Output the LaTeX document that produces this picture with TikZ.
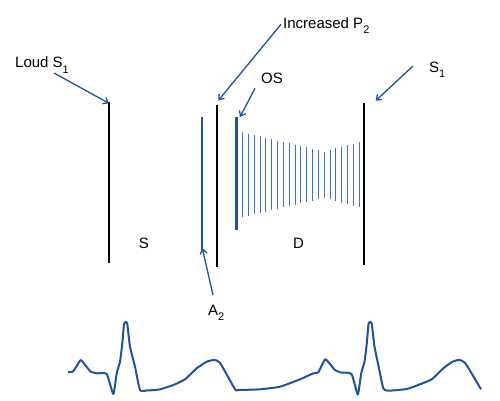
\documentclass[tikz,border=0pt]{standalone}
\usepackage{fontspec}
\setmainfont{Liberation Sans}
\usepackage{tikz}
\usetikzlibrary{arrows.meta, calc}
\usepackage{xcolor}
\definecolor{traceblue}{HTML}{1F52A0}
\definecolor{stripeblue}{HTML}{3F72C2}
\newcommand{\subidx}[1]{\raisebox{-5.5pt}{\fontsize{11}{11}\selectfont #1}}

\begin{document}
\begin{tikzpicture}[x=1pt, y=-1pt,
    lbl/.style={inner sep=0pt, anchor=base west, font=\fontsize{15}{18}\selectfont},
    ptr/.style={draw=traceblue, line width=1.3pt, -{Straight Barb[length=4.5pt,width=7pt]}},
    soundline/.style={line width=2pt, black},
    blueline/.style={line width=1.7pt, traceblue},
    stripe/.style={line width=1pt, stripeblue}]
  \useasboundingbox (0,0) rectangle (500,400);

  % heart sounds
  \draw[soundline] (109,102) -- (109,263);
  \draw[blueline] (202.3,117) -- (202.3,250);
  \draw[soundline] (217,105) -- (217,267);
  \draw[blueline, line width=3pt] (236,117) -- (236,230);
  \draw[soundline] (364,103) -- (364,265);

  % diastolic rumble
  \foreach \i in {0,...,20}{
    \pgfmathsetmacro{\xs}{242.7+5.82*\i}
    \pgfmathsetmacro{\hs}{\i<15 ? 42.3-1.364*\i : 23.2+1.55*(\i-14)}
    \draw[stripe] (\xs,174.7-\hs) -- (\xs,174.7+\hs);
  }

  % arrow tips
  \coordinate (loudtip) at (109,103.3);
  \coordinate (p2tip) at (218.3,100.5);
  \coordinate (ostip) at (240,117);
  \coordinate (s1tip) at (375.7,100.7);
  \coordinate (a2tip) at (202.3,248.3);

  % labels
  \node[lbl] (loud) at (15,67.7) {Loud S\subidx{1}};
  \node[lbl] (incp2) at (283,28.3) {Increased P\subidx{2}};
  \node[lbl] (os) at (261,83.3) {OS};
  \node[lbl] (s1) at (429,72) {S\subidx{1}};
  \node[lbl] (a2) at (208,315) {A\subidx{2}};
  \node[lbl, anchor=center] (sys) at (144,243) {S};
  \node[lbl, anchor=center] (dia) at (298.5,243.5) {D};

  \draw[ptr] ($(loud.base west)+(39,5.3)$) -- (loudtip);
  \draw[ptr] ($(incp2.base west)+(-2,-4)$) -- (p2tip);
  \draw[ptr] ($(os.base west)+(-6,5)$) -- (ostip);
  \draw[ptr] ($(s1.base west)+(-16,-6)$) -- (s1tip);
  \draw[ptr] ($(a2.base west)+(5,-20)$) -- (a2tip);

  % ECG trace
  \draw[traceblue, line width=2pt, line join=round] plot[smooth, tension=0.3] coordinates {
    (68,372) (72.7,371.7) (76,367.3) (80.7,360) (86,366) (90.7,371.7)
    (96.7,373.3) (106.7,374) (113.3,394) (116.7,373.3) (120,361.7)
    (122.3,343.3) (124,324) (125.7,322) (127.3,324) (130,346.7)
    (135,366.7) (140,390) (146.7,390.5) (159.3,389.5) (173.3,385)
    (185,379.3) (196.7,368.3) (206.7,361.7) (214,360) (220,362.7)
    (235,389.3) (238.3,390) (260,389.3) (280,386.7) (300,379.3)
    (313.3,373.3) (318.3,372.3) (325,359.3) (330,364) (335,370)
    (341,372.5) (351.5,374) (357.8,394.5) (361.2,373.3) (364.5,361.7)
    (366.8,343.3) (368.5,324) (370.2,322) (371.8,324) (374.5,346.7)
    (378.5,366) (383.3,388.3) (388.3,390.7) (406.7,389) (420,384.3)
    (431.7,379.3) (443.3,368.3) (452,362) (458.3,360) (465,362.7)
    (481,389.3)};
\end{tikzpicture}
\end{document}
